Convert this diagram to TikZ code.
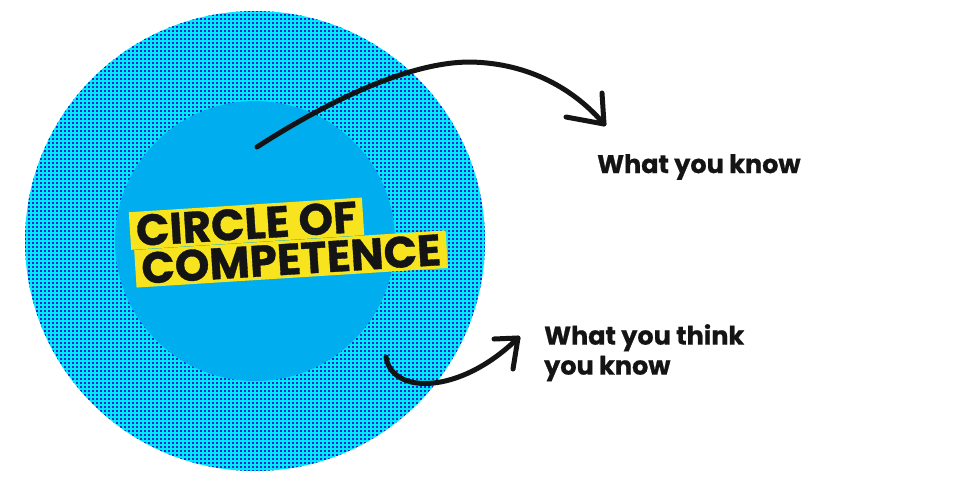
\documentclass[tikz,border=0pt]{standalone}
\usepackage{fontspec}
\setmainfont{Poppins}
\newfontfamily\heavyfont{Poppins}[BoldFeatures={FakeBold=0.8}]
\definecolor{dotcyan}{RGB}{0,232,255}
\definecolor{dotblue}{RGB}{25,40,200}
\definecolor{innerblue}{RGB}{0,174,239}
\definecolor{labelyellow}{RGB}{248,228,30}
\definecolor{ink}{RGB}{20,20,20}
\begin{document}
\begin{tikzpicture}[x=1pt,y=-1pt,
  arrowline/.style={line width=5pt, line cap=round, line join=round, draw=ink},
  dotrow/.style={draw=dotblue, line width=2.1pt, dash pattern=on 2.1pt off 1.9pt},
  bigtag/.style={fill=labelyellow, text=ink, font=\heavyfont\bfseries\fontsize{44}{44}\selectfont, inner xsep=6pt, inner ysep=3pt, transform shape},
  sidetext/.style={text=ink, font=\heavyfont\bfseries\fontsize{25.5}{30}\selectfont, align=left, inner sep=0pt}]
\useasboundingbox (0,0) rectangle (960,480);
\fill[white] (0,0) rectangle (960,480);
\coordinate (c) at (255,241);
\fill[dotcyan] (c) circle[radius=230pt];
\begin{scope}
  \clip (c) circle[radius=230pt];
  \foreach \j in {0,...,116} {
    \draw[dotrow] (24,11+4*\j) -- (488,11+4*\j);
  }
\end{scope}
\fill[innerblue] (c) circle[radius=140pt];
\begin{scope}[shift={(131,250)}, rotate=3.6]
  \node[bigtag, anchor=south west] (t1) at (0,0) {CIRCLE OF};
  \node[bigtag, anchor=north west] (t2) at (3,0) {COMPETENCE};
\end{scope}
\node[sidetext, anchor=west] (k1) at (597,167) {What you know};
\node[sidetext, anchor=north west] (k2) at (544,324) {What you think\\you know};
\coordinate (a1s) at (257,147);
\coordinate (a1m) at (470,62);
\coordinate (a1t) at (604,124);
\coordinate (h1a) at (566,117);
\coordinate (h1b) at (602,93);
\draw[arrowline] (a1s) .. controls (330,100) and (410,62) .. (a1m) .. controls (530,63) and (575,90) .. (a1t);
\draw[arrowline] (h1a) -- (a1t) -- (h1b);
\coordinate (a2s) at (386,357);
\coordinate (a2t) at (518,338);
\coordinate (h2a) at (494,339);
\coordinate (h2b) at (513,369);
\draw[arrowline] (a2s) .. controls (392,395) and (460,395) .. (a2t);
\draw[arrowline] (h2a) -- (a2t) -- (h2b);
\end{tikzpicture}
\end{document}
